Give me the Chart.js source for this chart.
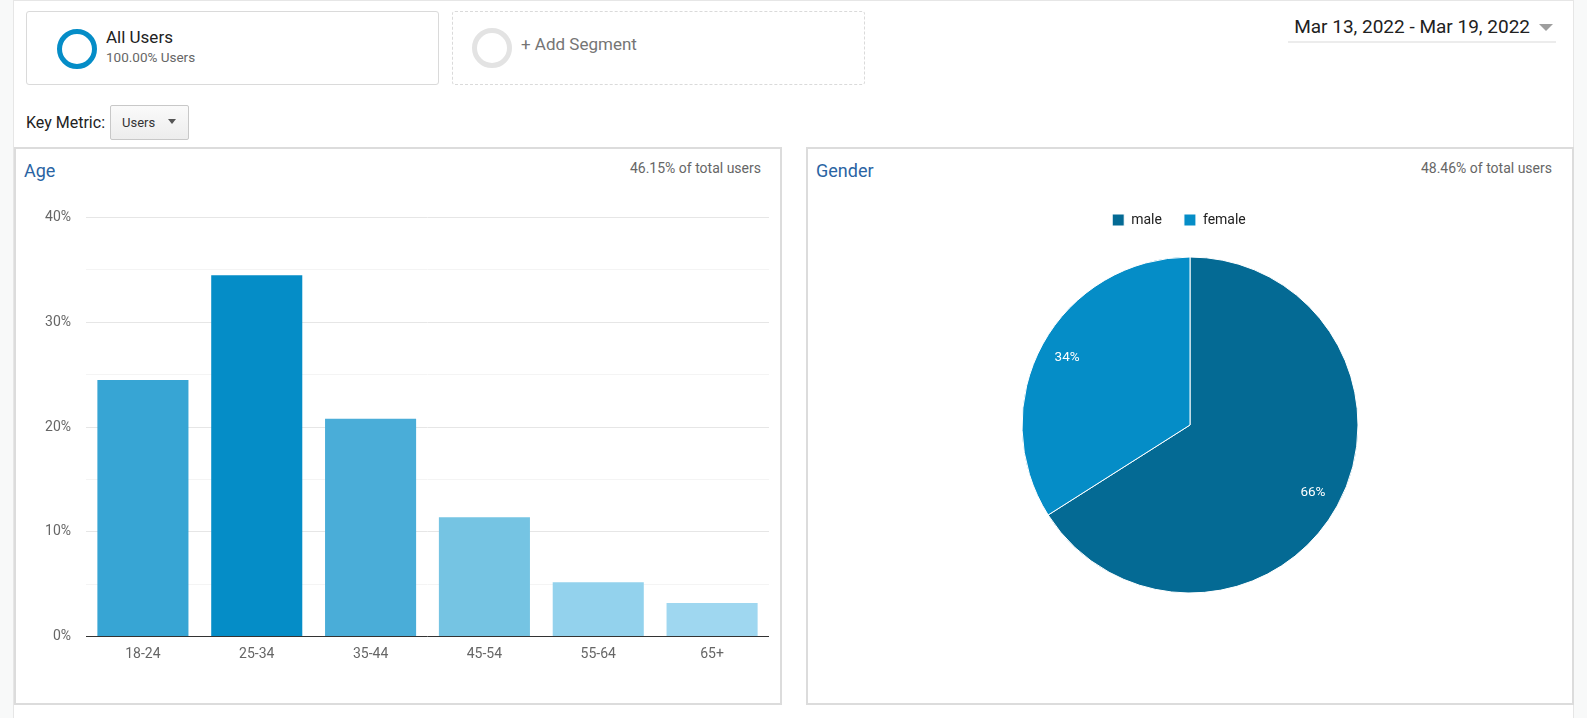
<!DOCTYPE html>
<html>
<head>
<meta charset="utf-8">
<script src="https://cdn.jsdelivr.net/npm/chart.js@4.4.0/dist/chart.umd.min.js"></script>
<style>
  html, body { margin: 0; padding: 0; }
  body { width: 1587px; height: 718px; background: #f8f9f9; position: relative; overflow: hidden; font-family: Roboto, "Noto Sans", Arial, sans-serif; }
  #page { position: absolute; left: 13px; top: 0; width: 1561px; height: 718px; background: #fff; border: 1px solid #e6e6e6; border-bottom: none; box-sizing: border-box; }
  .abs { position: absolute; }
  .seg { position: absolute; box-sizing: border-box; border-radius: 3px; }
  .panel { position: absolute; box-sizing: border-box; border: 2px solid #dcdcdc; background: #fff; }
  .ptitle { position: absolute; font-size: 18px; color: #2a64a3; line-height: 22px; }
  .psub { position: absolute; font-size: 14px; color: #666; line-height: 17px; text-align: right; }
</style>
</head>
<body>
<div id="page"></div>

<!-- segment boxes -->
<div class="seg" style="left:26px;top:11px;width:413px;height:74px;border:1px solid #dadada;"></div>
<div class="abs" style="left:57px;top:29px;width:40px;height:40px;box-sizing:border-box;border:5px solid #058dc7;border-radius:50%;"></div>
<div class="abs" style="left:106px;top:27px;font-size:17px;color:#222;line-height:20px;">All Users</div>
<div class="abs" style="left:106px;top:49px;font-size:13.5px;color:#666;line-height:16px;">100.00% Users</div>

<div class="seg" style="left:452px;top:11px;width:413px;height:74px;border:1px dashed #dadada;"></div>
<div class="abs" style="left:472px;top:28px;width:40px;height:40px;box-sizing:border-box;border:5px solid #e3e3e3;border-radius:50%;"></div>
<div class="abs" style="left:521px;top:34px;font-size:17px;color:#757575;line-height:20px;">+ Add Segment</div>

<!-- date range -->
<div class="abs" style="left:1230px;width:300px;top:16px;font-size:19px;color:#212121;line-height:22px;text-align:right;">Mar 13, 2022 - Mar 19, 2022</div>
<div class="abs" style="left:1539px;top:24px;width:0;height:0;border-left:7px solid transparent;border-right:7px solid transparent;border-top:7px solid #9e9e9e;"></div>
<div class="abs" style="left:1288px;top:41px;width:268px;height:2px;background:#ececec;"></div>

<!-- key metric -->
<div class="abs" style="left:26px;top:113px;font-size:16px;color:#222;line-height:19px;">Key Metric:</div>
<div class="abs" style="left:110px;top:105px;width:79px;height:35px;box-sizing:border-box;border:1px solid #c8c8c8;border-radius:2px;background:linear-gradient(#fafafa,#ededed);"></div>
<div class="abs" style="left:122px;top:115px;font-size:13px;color:#333;line-height:15px;">Users</div>
<div class="abs" style="left:168px;top:119px;width:0;height:0;border-left:4px solid transparent;border-right:4px solid transparent;border-top:5px solid #555;"></div>

<!-- panels -->
<div class="panel" style="left:14px;top:147px;width:768px;height:558px;"></div>
<div class="ptitle" style="left:24px;top:160px;">Age</div>
<div class="psub" style="left:500px;width:261px;top:160px;">46.15% of total users</div>

<div class="panel" style="left:806px;top:147px;width:768px;height:558px;"></div>
<div class="ptitle" style="left:816px;top:160px;">Gender</div>
<div class="psub" style="left:1290px;width:262px;top:160px;">48.46% of total users</div>

<div class="abs" style="left:16px;top:190px;width:764px;height:490px;"><canvas id="age"></canvas></div>
<div class="abs" style="left:808px;top:190px;width:764px;height:423px;"><canvas id="gender"></canvas></div>

<script>
// ---- data ----
const ageCategories = ["18-24", "25-34", "35-44", "45-54", "55-64", "65+"];
const ageValues = [24.5, 34.5, 20.8, 11.4, 5.2, 3.2];
const ageColors = ["#37a5d4", "#058dc7", "#4aadd8", "#75c4e3", "#93d2ed", "#9fd7f0"];
const ageTickValues = [0, 10, 20, 30, 40];

const genderLabels = ["male", "female"];
const genderValues = [66, 34];
const genderColors = ["#046a94", "#058dc7"];

Chart.defaults.font.family = "Roboto, 'Noto Sans', Arial, sans-serif";
Chart.defaults.animation = false;

new Chart(document.getElementById('age'), {
  type: 'bar',
  data: {
    labels: ageCategories,
    datasets: [{ data: ageValues, backgroundColor: ageColors, barPercentage: 0.8, categoryPercentage: 1.0 }]
  },
  options: {
    responsive: true,
    maintainAspectRatio: false,
    layout: { padding: { top: 27.6, right: 11, left: 0, bottom: 0 } },
    plugins: { legend: { display: false }, tooltip: { enabled: false } },
    scales: {
      x: {
        grid: { display: false, drawTicks: false },
        border: { display: false },
        ticks: { color: '#666', font: { size: 14 }, padding: 9 },
        afterFit: s => { s.height = 43.4; }
      },
      y: {
        min: 0, max: 40,
        ticks: {
          stepSize: 5,
          color: '#666', font: { size: 14 }, padding: 15,
          callback: v => ageTickValues.includes(v) ? v + '%' : ''
        },
        grid: {
          drawTicks: false,
          lineWidth: 1,
          color: c => c.tick.value === 0 ? '#333333' : (c.tick.value % 10 === 0 ? '#e6e6e6' : '#f4f4f4')
        },
        border: { display: false },
        afterFit: s => { s.width = 70; }
      }
    }
  }
});

const pieLabelPlugin = {
  id: 'pieLabels',
  afterLayout(chart) {
    // nudge the legend row slightly left, as in the reference
    if (chart.legend) { chart.legend.left -= 11; chart.legend.right -= 11; }
  },
  afterDatasetsDraw(chart) {
    const ctx = chart.ctx;
    const meta = chart.getDatasetMeta(0);
    const total = genderValues.reduce((a, b) => a + b, 0);
    ctx.save();
    ctx.fillStyle = '#ffffff';
    ctx.font = "13.5px Roboto, 'Noto Sans', Arial, sans-serif";
    ctx.textAlign = 'center';
    ctx.textBaseline = 'middle';
    meta.data.forEach((arc, i) => {
      const p = arc.getProps(['x', 'y', 'startAngle', 'endAngle', 'outerRadius']);
      const mid = (p.startAngle + p.endAngle) / 2;
      const r = p.outerRadius * 0.835;
      ctx.fillText(Math.round(genderValues[i] / total * 100) + '%', p.x + Math.cos(mid) * r, p.y + Math.sin(mid) * r);
    });
    ctx.restore();
  }
};

new Chart(document.getElementById('gender'), {
  type: 'pie',
  data: {
    labels: genderLabels,
    datasets: [{ data: genderValues, backgroundColor: genderColors, borderColor: '#ffffff', borderWidth: 1, radius: 168 }]
  },
  options: {
    responsive: true,
    maintainAspectRatio: false,
    layout: { padding: { top: 1, bottom: 0 } },
    plugins: {
      legend: {
        position: 'top',
        labels: { boxWidth: 12, boxHeight: 12, padding: 22, color: '#222', font: { size: 14 } }
      },
      tooltip: { enabled: false }
    }
  },
  plugins: [pieLabelPlugin]
});
</script>
</body>
</html>
